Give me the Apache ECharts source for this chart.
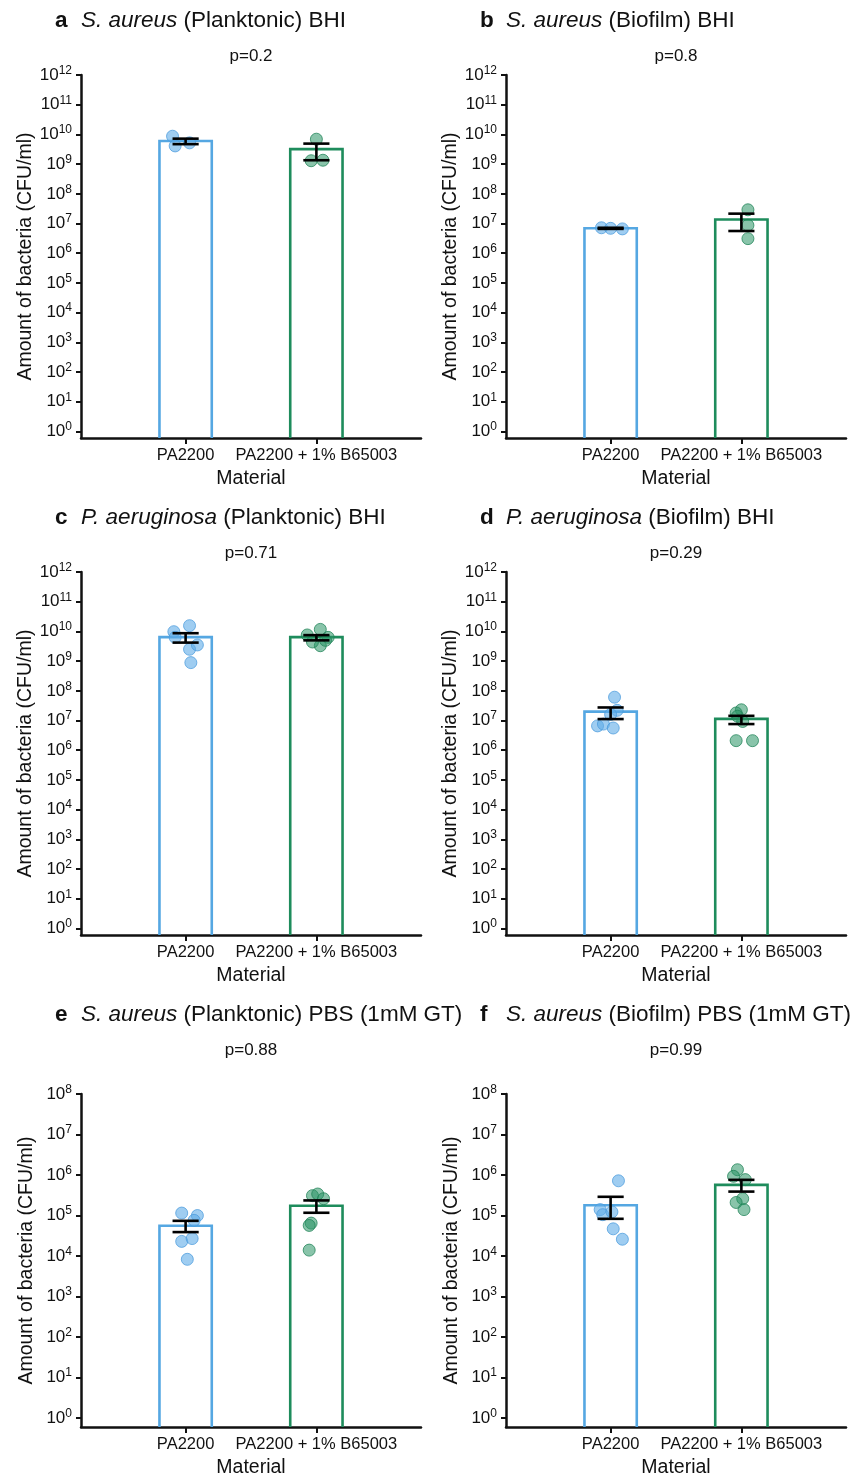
<!DOCTYPE html>
<html><head><meta charset="utf-8">
<script src="https://cdn.jsdelivr.net/npm/echarts@6/dist/echarts.min.js"></script>
<style>html,body{margin:0;padding:0;background:#fff}#c{width:858px;height:1479px}</style>
</head><body><div id="c"></div>
<script>
// ---------- data ----------
const categories = ['PA2200', 'PA2200 + 1% B65003'];
const categoryPos = [1, 2];
const decadesTall = [0,1,2,3,4,5,6,7,8,9,10,11,12];
const decadesShort = [0,1,2,3,4,5,6,7,8];
const pValues = ['p=0.2', 'p=0.8', 'p=0.71', 'p=0.29', 'p=0.88', 'p=0.99'];

// a: S. aureus (Planktonic) BHI
const aMean = [6.0e9, 3.2e9];
const aErrLow = [4.7e9, 1.35e9];
const aErrHigh = [7.2e9, 4.9e9];
const aPA = [8.7e9, 4.1e9, 5.2e9];
const aPAJit = [-0.10, -0.08, 0.03];
const aPAB = [6.9e9, 1.3e9, 1.35e9];
const aPABJit = [0.0, -0.04, 0.05];

// b: S. aureus (Biofilm) BHI
const bMean = [6.9e6, 1.36e7];
const bErrLow = [6.6e6, 5.6e6];
const bErrHigh = [7.2e6, 2.15e7];
const bPA = [7.2e6, 6.9e6, 6.6e6];
const bPAJit = [-0.07, 0.0, 0.09];
const bPAB = [2.9e7, 8.7e6, 3.1e6];
const bPABJit = [0.05, 0.05, 0.05];

// c: P. aeruginosa (Planktonic) BHI
const cMean = [6.4e9, 6.4e9];
const cErrLow = [4.2e9, 5.0e9];
const cErrHigh = [8.7e9, 7.5e9];
const cPA = [9.8e9, 1.56e10, 6.3e9, 2.5e9, 3.5e9, 8.9e8];
const cPAJit = [-0.09, 0.03, -0.08, 0.03, 0.09, 0.04];
const cPAB = [7.6e9, 1.17e10, 6.3e9, 3.3e9, 4.4e9, 5.0e9];
const cPABJit = [-0.07, 0.03, 0.09, 0.03, -0.03, 0.07];

// d: P. aeruginosa (Biofilm) BHI
const dMean = [2.0e7, 1.14e7];
const dErrLow = [1.12e7, 7.6e6];
const dErrHigh = [2.75e7, 1.44e7];
const dPA = [6.1e7, 2.2e7, 1.6e7, 6.6e6, 7.6e6, 5.6e6];
const dPAJit = [0.03, 0.05, 0.0, -0.10, -0.055, 0.02];
const dPAB = [2.3e7, 1.8e7, 9.3e6, 2.1e6, 2.1e6, 1.4e7];
const dPABJit = [0.0, -0.04, 0.01, -0.04, 0.085, -0.03];

// e: S. aureus (Planktonic) PBS (1mM GT)
const eMean = [5.6e4, 1.74e5];
const eErrLow = [3.9e4, 1.17e5];
const eErrHigh = [7.4e4, 2.36e5];
const ePA = [1.15e5, 1.0e5, 7.6e4, 2.3e4, 2.7e4, 8.3e3];
const ePAJit = [-0.03, 0.09, 0.065, -0.03, 0.05, 0.013];
const ePAB = [3.1e5, 3.4e5, 2.6e5, 6.5e4, 5.7e4, 1.4e4];
const ePABJit = [-0.03, 0.01, 0.055, -0.04, -0.055, -0.055];

// f: S. aureus (Biofilm) PBS (1mM GT)
const fMean = [1.8e5, 5.7e5];
const fErrLow = [8.3e4, 3.9e5];
const fErrHigh = [2.9e5, 7.6e5];
const fPA = [7.2e5, 1.4e5, 1.05e5, 1.23e5, 4.7e4, 2.6e4];
const fPAJit = [0.06, -0.08, -0.06, 0.01, 0.02, 0.09];
const fPAB = [1.35e6, 9.3e5, 7.7e5, 2.6e5, 2.1e5, 1.4e5];
const fPABJit = [-0.03, -0.06, 0.03, 0.01, -0.04, 0.02];

// ---------- layout / style ----------
const FONT = '"Liberation Sans", Arial, Helvetica, sans-serif';
const INK = '#111';
const BLUE = '#55A7E2';
const GREEN = '#1E8C5C';
const BLUE_PT = 'rgba(95,172,232,0.6)';
const BLUE_PT_B = 'rgba(75,155,220,0.75)';
const GREEN_PT = 'rgba(40,148,100,0.55)';
const GREEN_PT_B = 'rgba(30,130,85,0.75)';
const Y_MIN = -0.22;
const BAR_HALF = 0.2;
const CAP_HALF = 0.1;

const panels = [
  {letter:'a', sp:'S. aureus', rest:' (Planktonic) BHI', p:pValues[0], left:81, top:75, height:363, ticks:decadesTall, titleY:21, pY:56,
   mean:aMean, lo:aErrLow, hi:aErrHigh, pts:[aPA, aPAB], jit:[aPAJit, aPABJit]},
  {letter:'b', sp:'S. aureus', rest:' (Biofilm) BHI', p:pValues[1], left:506, top:75, height:363, ticks:decadesTall, titleY:21, pY:56,
   mean:bMean, lo:bErrLow, hi:bErrHigh, pts:[bPA, bPAB], jit:[bPAJit, bPABJit]},
  {letter:'c', sp:'P. aeruginosa', rest:' (Planktonic) BHI', p:pValues[2], left:81, top:572, height:363, ticks:decadesTall, titleY:518, pY:553,
   mean:cMean, lo:cErrLow, hi:cErrHigh, pts:[cPA, cPAB], jit:[cPAJit, cPABJit]},
  {letter:'d', sp:'P. aeruginosa', rest:' (Biofilm) BHI', p:pValues[3], left:506, top:572, height:363, ticks:decadesTall, titleY:518, pY:553,
   mean:dMean, lo:dErrLow, hi:dErrHigh, pts:[dPA, dPAB], jit:[dPAJit, dPABJit]},
  {letter:'e', sp:'S. aureus', rest:' (Planktonic) PBS (1mM GT)', p:pValues[4], left:81, top:1094, height:337, ticks:decadesShort, titleY:1015, pY:1050,
   mean:eMean, lo:eErrLow, hi:eErrHigh, pts:[ePA, ePAB], jit:[ePAJit, ePABJit]},
  {letter:'f', sp:'S. aureus', rest:' (Biofilm) PBS (1mM GT)', p:pValues[5], left:506, top:1094, height:337, ticks:decadesShort, titleY:1015, pY:1050,
   mean:fMean, lo:fErrLow, hi:fErrHigh, pts:[fPA, fPAB], jit:[fPAJit, fPABJit]}
];
const GRID_W = 340;

const grids = [], xAxes = [], yAxes = [], series = [], graphics = [];

panels.forEach((pn, i) => {
  const yMax = pn.ticks[pn.ticks.length - 1];
  grids.push({left: pn.left, top: pn.top, width: GRID_W, height: pn.height, containLabel: false});
  xAxes.push({
    gridIndex: i, type: 'value', min: 0.2, max: 2.8,
    axisLine: {show: true, onZero: false, lineStyle: {color: INK, width: 2.5}},
    axisTick: {show: true, customValues: categoryPos, length: 6, lineStyle: {color: INK, width: 2}},
    axisLabel: {show: true, customValues: categoryPos, margin: 9, color: INK, fontSize: 16.5, fontFamily: FONT,
      formatter: v => categories[Math.round(v) - 1] || ''},
    splitLine: {show: false},
    name: 'Material', nameLocation: 'middle', nameGap: 31,
    nameTextStyle: {color: INK, fontSize: 19.5, fontFamily: FONT}
  });
  yAxes.push({
    gridIndex: i, type: 'value', min: Y_MIN, max: yMax,
    axisLine: {show: true, onZero: false, lineStyle: {color: INK, width: 2.5}},
    axisTick: {show: true, customValues: pn.ticks, length: 5, lineStyle: {color: INK, width: 2}},
    axisLabel: {show: true, customValues: pn.ticks, margin: 9, color: INK, fontFamily: FONT,
      formatter: v => '{b|10}{s|' + Math.round(v) + '}',
      rich: {b: {fontSize: 17, color: INK, fontFamily: FONT},
             s: {fontSize: 12, color: INK, fontFamily: FONT, padding: [0, 0, 9, 0]}}},
    splitLine: {show: false},
    name: 'Amount of bacteria (CFU/ml)', nameLocation: 'middle', nameGap: 44,
    nameTextStyle: {color: INK, fontSize: 19.5, fontFamily: FONT}
  });

  const colors = [BLUE, GREEN];
  // bars
  series.push({
    type: 'custom', xAxisIndex: i, yAxisIndex: i, z: 1,
    data: categoryPos.map((c, k) => [c, Math.log10(pn.mean[k]), k]),
    encode: {x: 0, y: 1},
    renderItem: (params, api) => {
      const x = api.value(0), y = api.value(1), k = api.value(2);
      const tl = api.coord([x - BAR_HALF, y]);
      const br = api.coord([x + BAR_HALF, Y_MIN]);
      return {type: 'polyline', shape: {points: [[tl[0], br[1]], [tl[0], tl[1]], [br[0], tl[1]], [br[0], br[1]]]},
        style: {stroke: colors[k], lineWidth: 2.6, fill: null}};
    }
  });
  // points
  pn.pts.forEach((arr, k) => {
    series.push({
      type: 'scatter', xAxisIndex: i, yAxisIndex: i, z: 2, symbolSize: 12,
      data: arr.map((v, j) => [categoryPos[k] + pn.jit[k][j], Math.log10(v)]),
      itemStyle: {color: k === 0 ? BLUE_PT : GREEN_PT, borderColor: k === 0 ? BLUE_PT_B : GREEN_PT_B, borderWidth: 1, opacity: 1}
    });
  });
  // error bars
  series.push({
    type: 'custom', xAxisIndex: i, yAxisIndex: i, z: 3,
    data: categoryPos.map((c, k) => [c, Math.log10(pn.lo[k]), Math.log10(pn.hi[k])]),
    encode: {x: 0, y: [1, 2]},
    renderItem: (params, api) => {
      const x = api.value(0);
      const lo = api.coord([x, api.value(1)]);
      const hi = api.coord([x, api.value(2)]);
      const l = api.coord([x - CAP_HALF, api.value(1)]);
      const r = api.coord([x + CAP_HALF, api.value(1)]);
      const st = {stroke: '#000', lineWidth: 2.6};
      return {type: 'group', children: [
        {type: 'line', shape: {x1: lo[0], y1: lo[1], x2: hi[0], y2: hi[1]}, style: st},
        {type: 'line', shape: {x1: l[0], y1: lo[1], x2: r[0], y2: lo[1]}, style: st},
        {type: 'line', shape: {x1: l[0], y1: hi[1], x2: r[0], y2: hi[1]}, style: st}
      ]};
    }
  });

  // titles
  graphics.push({type: 'text', x: pn.left - 26, y: pn.titleY,
    style: {text: pn.letter, font: 'bold 22.5px ' + FONT, fill: INK, textVerticalAlign: 'middle'}});
  graphics.push({type: 'text', x: pn.left, y: pn.titleY,
    style: {text: '{i|' + pn.sp + '}{n|' + pn.rest + '}', textVerticalAlign: 'middle',
      rich: {i: {font: 'italic 22.5px ' + FONT, fill: INK}, n: {font: '22.5px ' + FONT, fill: INK}}}});
  graphics.push({type: 'text', x: pn.left + GRID_W / 2, y: pn.pY,
    style: {text: pn.p, font: '17px ' + FONT, fill: INK, textAlign: 'center', textVerticalAlign: 'middle'}});
});

const chart = echarts.init(document.getElementById('c'), null, {renderer: 'canvas'});
chart.setOption({
  animation: false,
  backgroundColor: '#fff',
  grid: grids, xAxis: xAxes, yAxis: yAxes, series: series, graphic: graphics
});
</script>
</body></html>
